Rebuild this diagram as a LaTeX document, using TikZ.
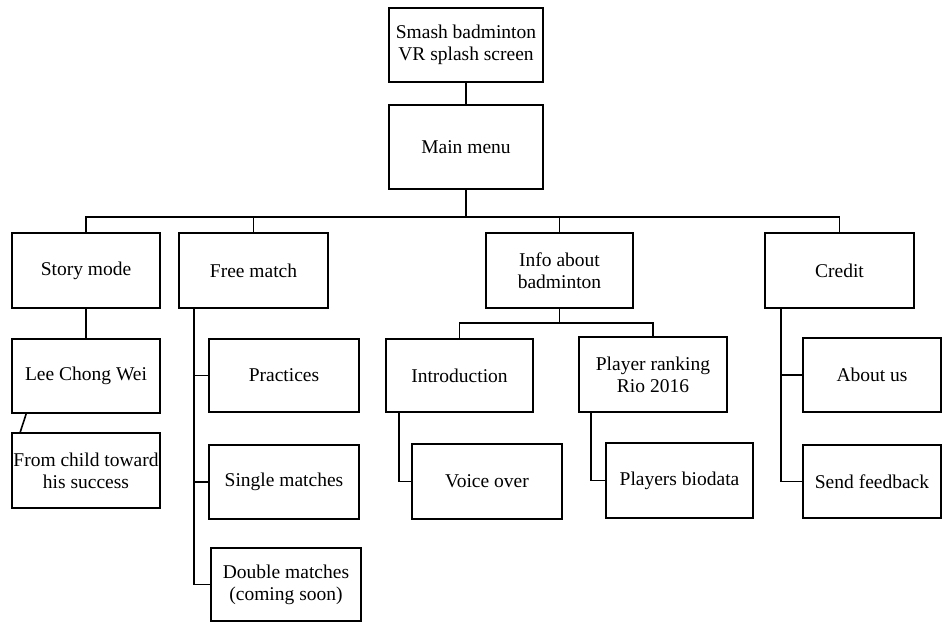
\documentclass[tikz,border=0pt]{standalone}
\usepackage{fontspec}
\setmainfont{Liberation Serif}
\begin{document}
\begin{tikzpicture}[x=1pt,y=-1pt,
  box/.style={draw,line width=1.6pt,minimum width=#1,inner sep=0pt,align=center,
    font=\fontsize{19.5}{22}\selectfont},
  box/.default=148pt,
  conn/.style={line width=1.6pt}]
\useasboundingbox (0,0) rectangle (942,622);
\node[box=154pt,minimum height=74pt] (splash) at (466,45) {Smash badminton\\VR splash screen};
\node[box=154pt,minimum height=84pt] (main) at (466,147) {Main menu};
\node[box,minimum height=75pt] (story) at (86,270.5) {Story mode};
\node[box=149pt,minimum height=75pt] (free) at (253.5,270.5) {Free match};
\node[box=147pt,minimum height=75pt] (info) at (559.5,270.5) {Info about\\badminton};
\node[box=149pt,minimum height=75pt] (credit) at (839.5,270.5) {Credit};
\node[box,minimum height=74pt] (lee) at (86,376) {Lee Chong Wei};
\node[box,minimum height=75pt] (child) at (86,470.5) {From child toward\\his success};
\node[box=150pt,minimum height=73pt] (practices) at (284,375.5) {Practices};
\node[box=150pt,minimum height=74pt] (single) at (284,482) {Single matches};
\node[box=150pt,minimum height=73pt] (double) at (286,584.5) {Double matches\\(coming soon)};
\node[box=147pt,minimum height=73pt] (intro) at (459.5,375.5) {Introduction};
\node[box,minimum height=75pt] (ranking) at (653,374.5) {Player ranking\\Rio 2016};
\node[box=150pt,minimum height=75pt] (voice) at (487,481.5) {Voice over};
\node[box=147pt,minimum height=75pt] (bio) at (679.5,480.5) {Players biodata};
\node[box=138pt,minimum height=74pt] (about) at (872,375) {About us};
\node[box=138pt,minimum height=73pt] (feedback) at (872,481.5) {Send feedback};
\coordinate (bus) at (466,217);
\coordinate (ibus) at (559.5,323);
\draw[conn] (splash) -- (main);
\draw[conn] (main.south) -- (bus);
\draw[conn] (story.north) |- (bus) -| (credit.north);
\draw[conn] (free.north) -- (free.north |- bus);
\draw[conn] (info.north) -- (info.north |- bus);
\draw[conn] (info.south) -- (ibus);
\draw[conn] (intro.north) |- (ibus) -| (ranking.north);
\draw[conn] (story) -- (lee);
\draw[conn] ([xshift=15pt]lee.south west) -- ([xshift=9pt]child.north west);
\coordinate (fx) at ([xshift=-59.5pt]free.south);
\draw[conn] (fx) |- (double.west);
\draw[conn] (practices.west) -- (practices.west -| fx);
\draw[conn] (single.west) -- (single.west -| fx);
\draw[conn] ([xshift=14pt]intro.south west) |- (voice.west);
\draw[conn] ([xshift=13pt]ranking.south west) |- (bio.west);
\coordinate (cx) at ([xshift=17pt]credit.south west);
\draw[conn] (cx) |- (feedback.west);
\draw[conn] (about.west) -- (about.west -| cx);
\end{tikzpicture}
\end{document}
